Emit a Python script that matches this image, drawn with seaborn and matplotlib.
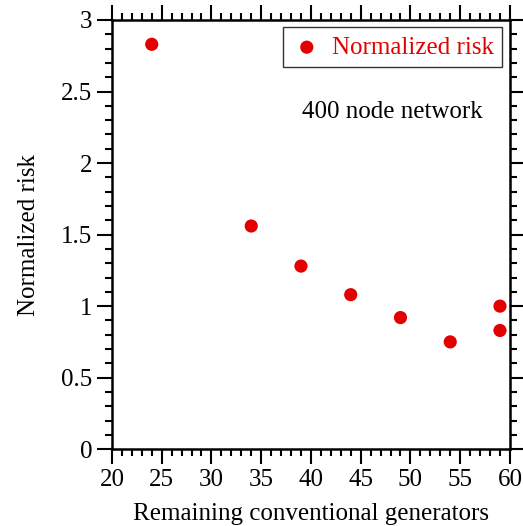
import matplotlib
matplotlib.use("Agg")
import matplotlib.pyplot as plt
import pandas as pd
import seaborn as sns
from matplotlib.ticker import MultipleLocator, FuncFormatter

# data
generators = [24, 34, 39, 44, 49, 54, 59, 59]
risk = [2.83, 1.56, 1.28, 1.08, 0.92, 0.75, 1.00, 0.83]

df = pd.DataFrame({"generators": generators, "risk": risk})

sns.set_theme(style="ticks")
plt.rcParams["font.family"] = ["Liberation Serif", "DejaVu Serif"]
plt.rcParams["text.color"] = "black"
plt.rcParams["axes.labelcolor"] = "black"
plt.rcParams["xtick.color"] = "black"
plt.rcParams["ytick.color"] = "black"

fig = plt.figure(figsize=(5.23, 5.26), dpi=100)
ax = fig.add_axes([0.214, 0.146, 0.761, 0.816])

sns.scatterplot(data=df, x="generators", y="risk", color="#e30000", s=90,
                edgecolor="none", label="Normalized risk", ax=ax, zorder=3)

ax.set_xlim(20, 60)
ax.set_ylim(0, 3)
ax.xaxis.set_major_locator(MultipleLocator(5))
ax.xaxis.set_minor_locator(MultipleLocator(1))
ax.yaxis.set_major_locator(MultipleLocator(0.5))
ax.yaxis.set_minor_locator(MultipleLocator(0.1))
ax.yaxis.set_major_formatter(FuncFormatter(lambda v, p: f"{v:g}"))

ax.tick_params(which="both", direction="out", top=True, right=True,
               color="black", width=1.5)
ax.tick_params(which="major", length=11, labelsize=18, pad=3)
ax.tick_params(which="minor", length=5)
for sp in ax.spines.values():
    sp.set_linewidth(1.8)
    sp.set_color("black")

ax.set_xlabel("Remaining conventional generators", fontsize=18, labelpad=9)
ax.set_ylabel("Normalized risk", fontsize=18, labelpad=15)

ax.text(0.705, 0.785, "400 node network", transform=ax.transAxes,
        fontsize=18, ha="center", va="center")

leg = ax.legend(loc="upper right", fontsize=18, frameon=True, fancybox=False,
                handletextpad=0.4, borderaxespad=0.3, borderpad=0.35,
                handlelength=1.2, markerscale=1.0)
leg.get_frame().set_edgecolor("black")
leg.get_frame().set_linewidth(1.0)
for t in leg.get_texts():
    t.set_color("#e30000")

fig.savefig("out.png", dpi=100)
